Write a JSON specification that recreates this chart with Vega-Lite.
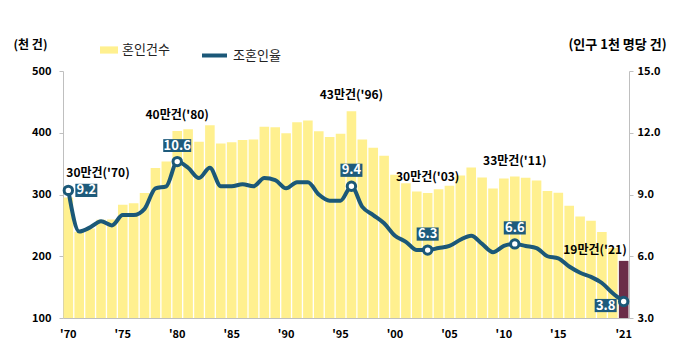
{
  "$schema": "https://vega.github.io/schema/vega-lite/v6.json",
  "width": 566,
  "height": 247,
  "autosize": "none",
  "padding": {"left": 63, "top": 71, "right": 71, "bottom": 46},
  "background": "white",
  "config": {
    "view": {"stroke": null},
    "font": "Noto Sans CJK KR",
    "axis": {"labelFont": "Noto Sans CJK KR", "titleFont": "Noto Sans CJK KR", "grid": false, "domainColor": "#BFBFBF", "tickColor": "#BFBFBF", "labelColor": "#000000", "titleColor": "#000000"}
  },
  "data": {"values": [
    {"year": 1970, "count": 295.1, "rate": 9.2, "note": "30만건('70)"},
    {"year": 1971, "count": 239.5, "rate": 7.2},
    {"year": 1972, "count": 244.8, "rate": 7.4},
    {"year": 1973, "count": 259.1, "rate": 7.7},
    {"year": 1974, "count": 259.6, "rate": 7.5},
    {"year": 1975, "count": 283.2, "rate": 8.0},
    {"year": 1976, "count": 286.0, "rate": 8.0},
    {"year": 1977, "count": 302.3, "rate": 8.3},
    {"year": 1978, "count": 343.1, "rate": 9.3},
    {"year": 1979, "count": 353.4, "rate": 9.4},
    {"year": 1980, "count": 403.0, "rate": 10.6, "note": "40만건('80)"},
    {"year": 1981, "count": 405.5, "rate": 10.3},
    {"year": 1982, "count": 385.6, "rate": 9.8},
    {"year": 1983, "count": 412.2, "rate": 10.3},
    {"year": 1984, "count": 382.7, "rate": 9.4},
    {"year": 1985, "count": 384.7, "rate": 9.4},
    {"year": 1986, "count": 388.4, "rate": 9.5},
    {"year": 1987, "count": 389.0, "rate": 9.4},
    {"year": 1988, "count": 409.7, "rate": 9.8},
    {"year": 1989, "count": 409.0, "rate": 9.7},
    {"year": 1990, "count": 399.3, "rate": 9.3},
    {"year": 1991, "count": 416.9, "rate": 9.6},
    {"year": 1992, "count": 419.8, "rate": 9.6},
    {"year": 1993, "count": 402.6, "rate": 9.0},
    {"year": 1994, "count": 393.1, "rate": 8.7},
    {"year": 1995, "count": 398.5, "rate": 8.7},
    {"year": 1996, "count": 434.9, "rate": 9.4, "note": "43만건('96)"},
    {"year": 1997, "count": 389.0, "rate": 8.4},
    {"year": 1998, "count": 375.6, "rate": 8.0},
    {"year": 1999, "count": 362.7, "rate": 7.6},
    {"year": 2000, "count": 332.1, "rate": 7.0},
    {"year": 2001, "count": 318.4, "rate": 6.7},
    {"year": 2002, "count": 304.9, "rate": 6.3},
    {"year": 2003, "count": 302.5, "rate": 6.3, "note": "30만건('03)"},
    {"year": 2004, "count": 308.6, "rate": 6.4},
    {"year": 2005, "count": 314.3, "rate": 6.5},
    {"year": 2006, "count": 330.6, "rate": 6.8},
    {"year": 2007, "count": 343.6, "rate": 7.0},
    {"year": 2008, "count": 327.7, "rate": 6.6},
    {"year": 2009, "count": 309.8, "rate": 6.2},
    {"year": 2010, "count": 326.1, "rate": 6.5},
    {"year": 2011, "count": 329.1, "rate": 6.6, "note": "33만건('11)"},
    {"year": 2012, "count": 327.1, "rate": 6.5},
    {"year": 2013, "count": 322.8, "rate": 6.4},
    {"year": 2014, "count": 305.5, "rate": 6.0},
    {"year": 2015, "count": 302.8, "rate": 5.9},
    {"year": 2016, "count": 281.6, "rate": 5.5},
    {"year": 2017, "count": 264.5, "rate": 5.2},
    {"year": 2018, "count": 257.6, "rate": 5.0},
    {"year": 2019, "count": 239.2, "rate": 4.7},
    {"year": 2020, "count": 213.5, "rate": 4.2},
    {"year": 2021, "count": 192.5, "rate": 3.8, "note": "19만건('21)"}
  ]},
  "encoding": {
    "x": {
      "field": "year", "type": "ordinal",
      "scale": {"paddingInner": 0.12, "paddingOuter": 0.05},
      "axis": {
        "title": null, "values": [1970, 1975, 1980, 1985, 1990, 1995, 2000, 2005, 2010, 2015, 2021],
        "labelExpr": "\"'\" + slice(toString(datum.value), 2)",
        "labelAngle": 0, "ticks": false, "labelPadding": 10, "labelFontSize": 11, "labelFontWeight": "bold", "domainColor": "#BFBFBF"
      }
    }
  },
  "layer": [
    {
      "layer": [
        {
          "mark": {"type": "bar"},
          "encoding": {
            "y": {
              "field": "count", "type": "quantitative",
              "scale": {"domain": [100, 500], "zero": false, "nice": false},
              "axis": {
                "orient": "left", "values": [100, 200, 300, 400, 500], "tickSize": 4, "labelPadding": 8,
                "labelFontSize": 11, "labelFontWeight": "bold",
                "title": "(천 건)", "titleAngle": 0, "titleX": -33, "titleY": -27, "titleAlign": "center", "titleBaseline": "middle",
                "titleFontSize": 12, "titleFontWeight": "bold"
              }
            },
            "y2": {"datum": 100},
            "color": {
              "condition": {"test": "datum.year === 2021", "value": "#6B2D48"},
              "datum": "혼인건수",
              "scale": {"domain": ["혼인건수"], "range": ["#FFF08F"]},
              "legend": {
                "title": null, "orient": "none", "legendX": 37, "legendY": -30,
                "symbolType": "M-1,-0.4H1V0.4H-1Z", "symbolSize": 324, "symbolStrokeWidth": 0,
                "labelFont": "Noto Sans CJK KR", "labelFontSize": 13, "labelColor": "#222222", "labelOffset": 4
              }
            }
          }
        },
        {
          "transform": [{"filter": "indexof([1980, 1996, 2003, 2011], datum.year) >= 0"}],
          "mark": {"type": "text", "dy": -16, "fontWeight": "bold", "fontSize": 12, "color": "#000000", "baseline": "middle"},
          "encoding": {"y": {"field": "count", "type": "quantitative"}, "text": {"field": "note"}}
        },
        {
          "transform": [{"filter": "datum.year === 1970"}],
          "mark": {"type": "text", "align": "left", "dx": -2, "dy": -25, "fontWeight": "bold", "fontSize": 12, "color": "#000000", "baseline": "middle"},
          "encoding": {"y": {"field": "count", "type": "quantitative"}, "text": {"field": "note"}}
        },
        {
          "transform": [{"filter": "datum.year === 2021"}],
          "mark": {"type": "text", "align": "right", "dx": 3, "dy": -11, "fontWeight": "bold", "fontSize": 12, "color": "#000000", "baseline": "middle"},
          "encoding": {"y": {"field": "count", "type": "quantitative"}, "text": {"field": "note"}}
        }
      ]
    },
    {
      "layer": [
        {
          "mark": {"type": "line", "strokeWidth": 4, "interpolate": "monotone"},
          "encoding": {
            "y": {
              "field": "rate", "type": "quantitative",
              "scale": {"domain": [3, 15], "zero": false, "nice": false},
              "axis": {
                "orient": "right", "values": [3, 6, 9, 12, 15], "format": ".1f", "tickSize": 4, "labelPadding": 4,
                "labelFontSize": 11, "labelFontWeight": "bold",
                "title": "(인구 1천 명당 건)", "titleAngle": 0, "titleX": -12, "titleY": -27, "titleAlign": "center", "titleBaseline": "middle",
                "titleFontSize": 13, "titleFontWeight": "bold"
              }
            },
            "stroke": {
              "datum": "조혼인율",
              "scale": {"domain": ["조혼인율"], "range": ["#1B5878"]},
              "legend": {
                "title": null, "orient": "none", "legendX": 137, "legendY": -30,
                "symbolType": "stroke", "symbolSize": 625, "symbolStrokeWidth": 4,
                "labelFont": "Noto Sans CJK KR", "labelFontSize": 13, "labelColor": "#222222", "labelOffset": 4
              }
            }
          }
        },
        {
          "transform": [{"filter": "isValid(datum.note)"}],
          "mark": {"type": "point", "filled": true, "fill": "#FFFFFF", "stroke": "#1B5878", "strokeWidth": 3, "size": 70, "opacity": 1},
          "encoding": {"y": {"field": "rate", "type": "quantitative"}}
        },
        {
          "transform": [{"filter": "indexof([1980, 1996, 2003, 2011], datum.year) >= 0"}],
          "mark": {"type": "point", "filled": true, "fill": "#1E5B7C", "strokeWidth": 0, "opacity": 1, "yOffset": -16},
          "encoding": {
            "y": {"field": "rate", "type": "quantitative"},
            "shape": {"condition": {"test": "datum.rate >= 10", "value": "M-1,-0.46H1V0.46H-1Z"}, "value": "M-1,-0.6H1V0.6H-1Z"},
            "size": {"condition": {"test": "datum.rate >= 10", "value": 784}, "value": 484}
          }
        },
        {
          "transform": [{"filter": "datum.year === 1970"}],
          "mark": {"type": "point", "filled": true, "fill": "#1E5B7C", "strokeWidth": 0, "opacity": 1, "xOffset": 18, "shape": "M-1,-0.6H1V0.6H-1Z", "size": 484},
          "encoding": {"y": {"field": "rate", "type": "quantitative"}}
        },
        {
          "transform": [{"filter": "datum.year === 2021"}],
          "mark": {"type": "point", "filled": true, "fill": "#1E5B7C", "strokeWidth": 0, "opacity": 1, "xOffset": -18, "yOffset": 4, "shape": "M-1,-0.6H1V0.6H-1Z", "size": 484},
          "encoding": {"y": {"field": "rate", "type": "quantitative"}}
        },
        {
          "transform": [{"filter": "indexof([1980, 1996, 2003, 2011], datum.year) >= 0"}],
          "mark": {"type": "text", "dy": -16, "fontWeight": "bold", "fontSize": 13, "color": "#FFFFFF", "baseline": "middle"},
          "encoding": {"y": {"field": "rate", "type": "quantitative"}, "text": {"field": "rate", "format": ".1f"}}
        },
        {
          "transform": [{"filter": "datum.year === 1970"}],
          "mark": {"type": "text", "dx": 18, "fontWeight": "bold", "fontSize": 13, "color": "#FFFFFF", "baseline": "middle"},
          "encoding": {"y": {"field": "rate", "type": "quantitative"}, "text": {"field": "rate", "format": ".1f"}}
        },
        {
          "transform": [{"filter": "datum.year === 2021"}],
          "mark": {"type": "text", "dx": -18, "dy": 4, "fontWeight": "bold", "fontSize": 13, "color": "#FFFFFF", "baseline": "middle"},
          "encoding": {"y": {"field": "rate", "type": "quantitative"}, "text": {"field": "rate", "format": ".1f"}}
        }
      ]
    }
  ],
  "resolve": {"scale": {"y": "independent"}}
}
